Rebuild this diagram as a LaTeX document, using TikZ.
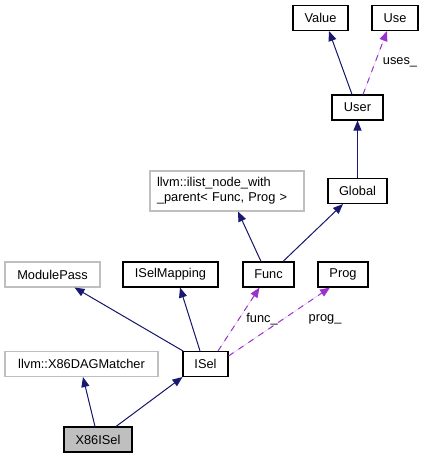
\documentclass[tikz,border=0pt]{standalone}
\usepackage{fontspec}
\setmainfont{Liberation Sans}
\usetikzlibrary{arrows.meta,calc}
\definecolor{navyedge}{HTML}{191970}
\definecolor{purpedge}{HTML}{9A32CD}
\definecolor{graybox}{HTML}{BFBFBF}
\begin{document}
\begin{tikzpicture}[x=0.75pt,y=-0.75pt,
  every node/.style={font=\fontsize{9.6}{11.5}\selectfont},
  box/.style={draw=black,line width=0.8pt,minimum height=18.75pt,inner sep=0pt,fill=white},
  gbox/.style={box,draw=graybox},
  selbox/.style={box,fill=graybox},
  inh/.style={draw=navyedge,line width=0.75pt,-{Triangle[length=7.5pt,width=6pt]},fill=navyedge},
  use/.style={draw=purpedge,line width=0.75pt,dash pattern=on 4.5pt off 4.5pt,-{Triangle[length=7.5pt,width=6pt]},fill=purpedge},
  lbl/.style={inner sep=0pt}]
\useasboundingbox (0,0) rectangle (425,459);
% nodes
\node[box,minimum width=41.25pt] (value) at (320.5,18) {Value};
\node[box,minimum width=34.5pt] (use) at (395,18) {Use};
\node[box,minimum width=38.25pt] (user) at (357.5,107.5) {User};
\node[box,minimum width=44.25pt] (global) at (357.5,191) {Global};
\node[gbox,minimum width=115.5pt,minimum height=30pt,align=left,text width=105pt] (ilist) at (227,191) {llvm::ilist\_node\_with\\\_parent{<} Func, Prog {>}};
\node[gbox,minimum width=71.25pt] (modpass) at (52.5,274.5) {ModulePass};
\node[box,minimum width=71.25pt] (iselmap) at (170.5,274.5) {ISelMapping};
\node[box,minimum width=38.25pt] (func) at (268.5,274.5) {Func};
\node[box,minimum width=37.5pt] (prog) at (343,274.5) {Prog};
\node[gbox,minimum width=114.75pt] (dag) at (81.5,364) {llvm::X86DAGMatcher};
\node[box,minimum width=33.75pt] (isel) at (205.5,364) {ISel};
\node[selbox,minimum width=51pt] (x86) at (98,439.5) {X86ISel};
% edges
\draw[inh] ($(user.north)+(-5.5,0)$) -- ($(value.south)+(8.5,0)$);
\draw[use] ($(user.north)+(5.5,0)$) -- ($(use.south)+(-8,0)$);
\draw[inh] (global.north) -- (user.south);
\draw[inh] ($(func.north)+(14.5,0)$) -- ($(global.south)+(-14.5,0)$);
\draw[inh] ($(func.north)+(-7.5,0)$) -- ($(ilist.south)+(11,0)$);
\draw[inh] ($(isel.north)+(-22.5,0)$) -- ($(modpass.south)+(22,0)$);
\draw[inh] ($(isel.north)+(-5.5,0)$) -- ($(iselmap.south)+(9.5,0)$);
\draw[use] ($(isel.north)+(12.5,0)$) -- ($(func.south)+(-9,0)$);
\draw[use] ($(isel.east)+(0,-8)$) -- ($(prog.south)+(-13,0)$);
\draw[inh] ($(x86.north)+(-3,0)$) -- ($(dag.south)+(1.5,0)$);
\draw[inh] ($(x86.north)+(18,0)$) -- ($(isel.south)+(-23,0)$);
% labels
\node[lbl] (lu) at (400,62) {uses\_};
\node[lbl] (lf) at (262,319) {func\_};
\node[lbl] (lp) at (325,319) {prog\_};
\end{tikzpicture}
\end{document}
